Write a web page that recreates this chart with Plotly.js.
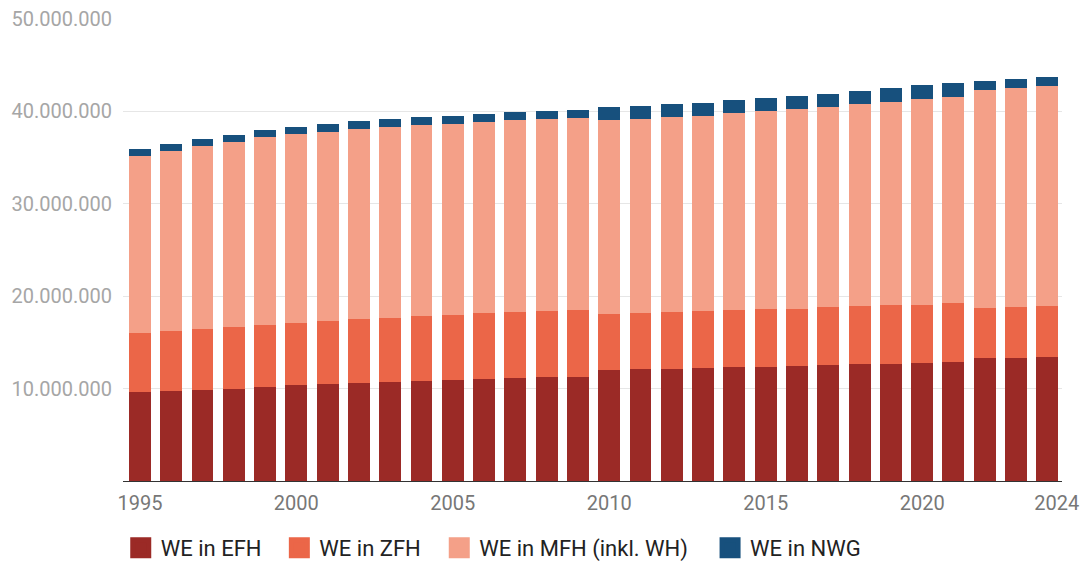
<!DOCTYPE html>
<html>
<head>
<meta charset="utf-8">
<script src="https://cdn.plot.ly/plotly-3.0.1.min.js"></script>
<style>
  html, body { margin: 0; padding: 0; background: #ffffff; }
  #chart { width: 1083px; height: 563px; }
</style>
</head>
<body>
<div id="chart"></div>
<script>
// ---- Data (Wohneinheiten) ----
const years = [1995, 1996, 1997, 1998, 1999, 2000, 2001, 2002, 2003, 2004,
               2005, 2006, 2007, 2008, 2009, 2010, 2011, 2012, 2013, 2014,
               2015, 2016, 2017, 2018, 2019, 2020, 2021, 2022, 2023, 2024];

const weEFH = [9640000, 9750000, 9860000, 9970000, 10180000, 10400000, 10500000, 10620000, 10730000, 10830000,
               10920000, 11020000, 11130000, 11240000, 11250000, 11990000, 12100000, 12110000, 12210000, 12320000,
               12330000, 12430000, 12540000, 12640000, 12650000, 12750000, 12860000, 13290000, 13300000, 13400000];

const weZFH = [6390000, 6500000, 6610000, 6710000, 6720000, 6720000, 6830000, 6930000, 6930000, 7050000,
               7050000, 7150000, 7150000, 7150000, 7240000, 6070000, 6070000, 6170000, 6180000, 6170000,
               6270000, 6170000, 6280000, 6290000, 6390000, 6290000, 6390000, 5420000, 5520000, 5530000];

const weMFH = [19170000, 19500000, 19830000, 20050000, 20340000, 20440000, 20450000, 20550000, 20660000, 20660000,
               20680000, 20690000, 20800000, 20800000, 20810000, 21020000, 21020000, 21120000, 21120000, 21350000,
               21450000, 21670000, 21670000, 21880000, 21990000, 22310000, 22320000, 23620000, 23730000, 23830000];

const weNWG = [770000, 750000, 750000, 760000, 760000, 760000, 870000, 870000, 870000, 860000,
               860000, 870000, 870000, 860000, 860000, 1410000, 1410000, 1410000, 1410000, 1410000,
               1410000, 1410000, 1410000, 1410000, 1520000, 1520000, 1520000, 970000, 970000, 980000];

const seriesNames = ["WE in EFH", "WE in ZFH", "WE in MFH (inkl. WH)", "WE in NWG"];
const seriesValues = [weEFH, weZFH, weMFH, weNWG];
const seriesColors = ["#9b2a26", "#eb6648", "#f4a088", "#17507d"];

const yTickVals = [10000000, 20000000, 30000000, 40000000, 50000000];
const xTickVals = [1995, 2000, 2005, 2010, 2015, 2020, 2024.3];
const xTickText = ["1995", "2000", "2005", "2010", "2015", "2020", "2024"];

// one legend box per series so each entry sits where the reference puts it
const legendIds = ["legend", "legend2", "legend3", "legend4"];
const legendX = [-0.0024, 0.1665, 0.3368, 0.6252];

// ---- Traces ----
const traces = [];
seriesValues.forEach((vals, i) => {
  traces.push({
    type: "bar",
    x: years,
    y: vals,
    name: seriesNames[i],
    legendgroup: seriesNames[i],
    showlegend: false,
    marker: { color: seriesColors[i], line: { width: 0 } },
    hoverinfo: "x+y+name"
  });
});
// legend proxies (larger square swatches)
seriesNames.forEach((nm, i) => {
  traces.push({
    type: "scatter",
    mode: "markers",
    x: [null],
    y: [null],
    name: nm,
    legendgroup: nm,
    legend: legendIds[i],
    showlegend: true,
    marker: { symbol: "square", size: 16, color: seriesColors[i],
              line: { width: 5, color: seriesColors[i] } },
    hoverinfo: "skip"
  });
});

const layout = {
  width: 1083,
  height: 563,
  margin: { l: 123, r: 21, t: 19, b: 82, autoexpand: false },
  paper_bgcolor: "#ffffff",
  plot_bgcolor: "#ffffff",
  font: { family: "Roboto, 'Open Sans', sans-serif", size: 20, color: "#222222" },
  separators: ",.",
  barmode: "stack",
  bargap: 0.3,
  showlegend: true,
  xaxis: {
    range: [1994.46, 2024.47],
    tickvals: xTickVals,
    ticktext: xTickText,
    showgrid: false,
    zeroline: false,
    showline: true,
    linecolor: "#333333",
    linewidth: 1,
    ticks: "",
    ticklabelstandoff: 4,
    tickfont: { family: "Roboto, sans-serif", size: 20, color: "#777777" },
    fixedrange: true
  },
  yaxis: {
    range: [0, 50000000],
    tickvals: yTickVals,
    tickformat: ",d",
    showgrid: true,
    gridcolor: "#e6e6e6",
    gridwidth: 1,
    zeroline: false,
    showline: false,
    ticks: "",
    ticklabelstandoff: 10,
    tickfont: { family: "Roboto, sans-serif", size: 20, color: "#a6a6a6" },
    fixedrange: true
  },
  hovermode: "closest"
};

legendIds.forEach((id, i) => {
  layout[id] = {
    orientation: "h",
    x: legendX[i],
    xanchor: "left",
    y: -0.145,
    yanchor: "middle",
    font: { family: "Roboto, sans-serif", size: 22, color: "#222222" },
    bgcolor: "rgba(0,0,0,0)",
    borderwidth: 0
  };
});

Plotly.newPlot("chart", traces, layout, { displayModeBar: false, staticPlot: true });
</script>
</body>
</html>
